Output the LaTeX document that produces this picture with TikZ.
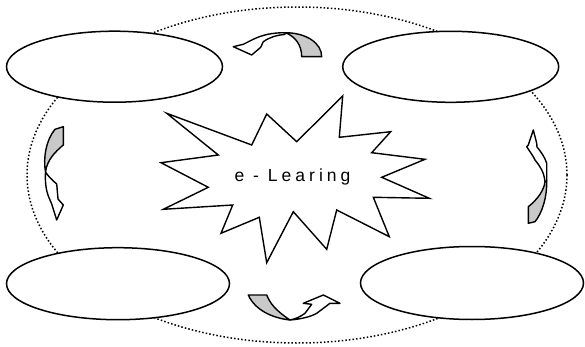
\documentclass[tikz,border=0pt]{standalone}
\usepackage{fontspec}
\setmainfont{Liberation Sans}
\newfontfamily\spaced[LetterSpace=23]{Liberation Sans}
\usetikzlibrary{shapes.geometric}
\begin{document}
\begin{tikzpicture}[x=1pt,y=-1pt,
  oval/.style={draw=black,line width=1.5pt,ellipse,inner sep=0pt,fill=white},
  band/.style={draw=black,line width=1.4pt,line join=round,fill=white},
  back/.style={draw=black,line width=1.4pt,line join=round,fill=gray!42}]
\useasboundingbox (0,0) rectangle (585,347);
% big dotted ellipse
\draw[line width=1.5pt,dash pattern=on 1.5pt off 2.1pt] (297,175) ellipse [x radius=270, y radius=168];
% four ovals
\node[oval,minimum width=216pt,minimum height=71pt] (tl) at (114.5,66.7) {};
\node[oval,minimum width=216pt,minimum height=71pt] (tr) at (450.7,66.8) {};
\node[oval,minimum width=223pt,minimum height=72pt] (bl) at (118,283.7) {};
\node[oval,minimum width=223pt,minimum height=73pt] (br) at (472,283) {};
% star
\draw[line width=1.4pt,line join=miter,fill=white]
 (166.7,113.3) -- (251.7,145) -- (266.7,114) -- (296.7,141.7) -- (342.7,96)
 -- (339.3,137.3) -- (390.7,131.7) -- (371.7,152.7) -- (425,159.3)
 -- (381.7,177.3) -- (429.3,198.3) -- (373.3,197.3) -- (389.3,236.7)
 -- (336.7,210) -- (326.7,249.3) -- (293.3,211.7) -- (266.7,262.7)
 -- (259.3,217.3) -- (221,233.3) -- (232.7,205) -- (163.3,209.3)
 -- (208.3,187.3) -- (161,162.7) -- (218.3,155) -- cycle;
\node (lbl) at (292.5,176.5) {\spaced\fontsize{17.5pt}{20pt}\selectfont e - Learing};
% top curved arrow
\draw[back] (301.7,56.7) -- (321.7,56.7) .. controls (321.7,43) and (306,32.7) .. (285,32.7)
  .. controls (295,36) and (301.7,45) .. cycle;
\draw[band] (285,32.7) .. controls (272,32.7) and (262,35) .. (253.3,39.3)
  -- (243.3,44.3) -- (233.3,46.7) -- (251.7,55) -- (260.7,47.3) -- (263.3,41.7)
  .. controls (270,37) and (277,35) .. (285,34.5) -- cycle;
% bottom curved arrow
\draw[back] (248.3,295) -- (266.7,295) .. controls (270,303) and (275,310) .. (290,320)
  .. controls (272,318) and (255,310) .. cycle;
\draw[band] (290,320) .. controls (303,319) and (312,316) .. (316.7,313.3)
  -- (330,303.3) -- (340,303.3) -- (323.3,295) -- (303.3,303.3) -- (311.7,304.3)
  -- (305,313.3) .. controls (300,317) and (295,319) .. cycle;
% left curved arrow
\draw[back] (55,129.3) -- (63.3,126.7) -- (63.3,145) .. controls (55,152) and (47,160) .. (45.5,172)
  .. controls (43,158) and (46,140) .. cycle;
\draw[band] (45.5,172) .. controls (45,182) and (46,190) .. (48.3,196)
  -- (51.7,204) -- (56.7,220) -- (63.3,205) -- (58,199) -- (56.7,184)
  .. controls (52,180) and (48,176) .. cycle;
% right curved arrow
\draw[back] (528.3,206.7) .. controls (538,199) and (544,190) .. (545,181.7)
  -- (546.7,181) .. controls (547,198) and (542,213) .. (535,221.7) -- (528.3,223.3) -- cycle;
\draw[band] (545,181.7) -- (546.7,181) -- (546.7,163.3) .. controls (545,158) and (542,153) .. (537,147)
  -- (536.7,143.3) -- (533.3,130) -- (528.3,145) -- (526.7,146.7) -- (533.3,156.7) -- (535,160)
  .. controls (540,166) and (544,172) .. cycle;
\end{tikzpicture}
\end{document}
